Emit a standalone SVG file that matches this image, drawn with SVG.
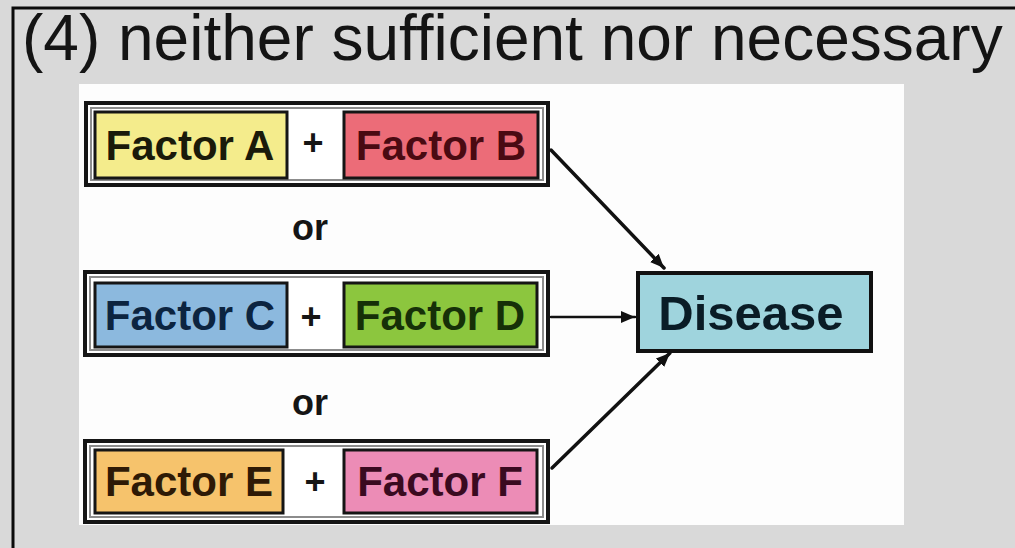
<svg xmlns="http://www.w3.org/2000/svg" width="1015" height="548" viewBox="0 0 1015 548">
  <defs>
    <style>
      .title { font-family: "Liberation Sans", Arial, sans-serif; font-size: 64px; fill: #141414; }
      .lbl { font-family: "Liberation Sans", Arial, sans-serif; font-weight: bold; font-size: 42px; text-anchor: middle; }
      .op { font-family: "Liberation Sans", Arial, sans-serif; font-weight: bold; font-size: 36px; text-anchor: middle; fill: #151515; }
      .row-outer { fill: #ffffff; stroke: #151515; stroke-width: 4; }
      .row-inner { fill: none; stroke: #8c8c8c; stroke-width: 2; }
      .factor { stroke: #151515; stroke-width: 3; }
      .conn { fill: none; stroke: #111111; stroke-linecap: round; }
    </style>
    <marker id="arrow" markerUnits="userSpaceOnUse" markerWidth="16" markerHeight="14" refX="14" refY="6" orient="auto">
      <path d="M0,0 L14,6 L0,12 Z" fill="#111111"/>
    </marker>
  </defs>

  <!-- slide background with frame -->
  <rect x="0" y="0" width="1015" height="548" fill="#d9d9d9"/>
  <path d="M13,548 V8 H1015" fill="none" stroke="#0a0a0a" stroke-width="3"/>
  <text class="title" x="22" y="60">(4) neither sufficient nor necessary</text>

  <!-- white figure panel -->
  <rect x="79" y="84" width="825" height="441" fill="#fdfdfd"/>

  <!-- row 1 -->
  <g id="row-ab">
    <rect class="row-outer" x="86" y="103" width="462" height="82"/>
    <rect class="row-inner" x="91" y="108" width="452" height="72"/>
    <g id="factor-a">
      <rect class="factor" x="95" y="112" width="192" height="66" fill="#f4ec8c"/>
      <text class="lbl" x="190" y="160" fill="#1a1a0a">Factor A</text>
    </g>
    <text class="op" x="313" y="155">+</text>
    <g id="factor-b">
      <rect class="factor" x="344" y="112" width="194" height="66" fill="#ec6c78"/>
      <text class="lbl" x="441" y="160" fill="#4a0a12">Factor B</text>
    </g>
  </g>

  <text class="op" x="310" y="240">or</text>

  <!-- row 2 -->
  <g id="row-cd">
    <rect class="row-outer" x="85" y="272" width="463" height="83"/>
    <rect class="row-inner" x="90" y="277" width="453" height="73"/>
    <g id="factor-c">
      <rect class="factor" x="95" y="283" width="192" height="64" fill="#8cb9de"/>
      <text class="lbl" x="190" y="330" fill="#0c2440">Factor C</text>
    </g>
    <text class="op" x="311" y="329">+</text>
    <g id="factor-d">
      <rect class="factor" x="344" y="283" width="193" height="64" fill="#8cc63e"/>
      <text class="lbl" x="440" y="330" fill="#163008">Factor D</text>
    </g>
  </g>

  <text class="op" x="310" y="415">or</text>

  <!-- row 3 -->
  <g id="row-ef">
    <rect class="row-outer" x="85" y="441" width="463" height="81"/>
    <rect class="row-inner" x="90" y="446" width="453" height="71"/>
    <g id="factor-e">
      <rect class="factor" x="95" y="450" width="188" height="63" fill="#f6c36c"/>
      <text class="lbl" x="189" y="496" fill="#2e1a06">Factor E</text>
    </g>
    <text class="op" x="315" y="494">+</text>
    <g id="factor-f">
      <rect class="factor" x="344" y="450" width="193" height="63" fill="#ec8cb6"/>
      <text class="lbl" x="440" y="496" fill="#3a0a20">Factor F</text>
    </g>
  </g>

  <!-- outcome -->
  <g id="disease">
    <rect x="638" y="273" width="233" height="78" fill="#9fd4dd" stroke="#111111" stroke-width="4"/>
    <text class="lbl" x="751" y="330" fill="#0a1c26" style="font-size:49px">Disease</text>
  </g>

  <!-- connectors -->
  <g id="connectors">
    <line class="conn" x1="551" y1="150" x2="664" y2="268" stroke-width="3.5" marker-end="url(#arrow)"/>
    <line class="conn" x1="551" y1="317" x2="635" y2="317" stroke-width="2.5" marker-end="url(#arrow)"/>
    <line class="conn" x1="552" y1="468" x2="670" y2="353" stroke-width="3.5" marker-end="url(#arrow)"/>
  </g>
</svg>
